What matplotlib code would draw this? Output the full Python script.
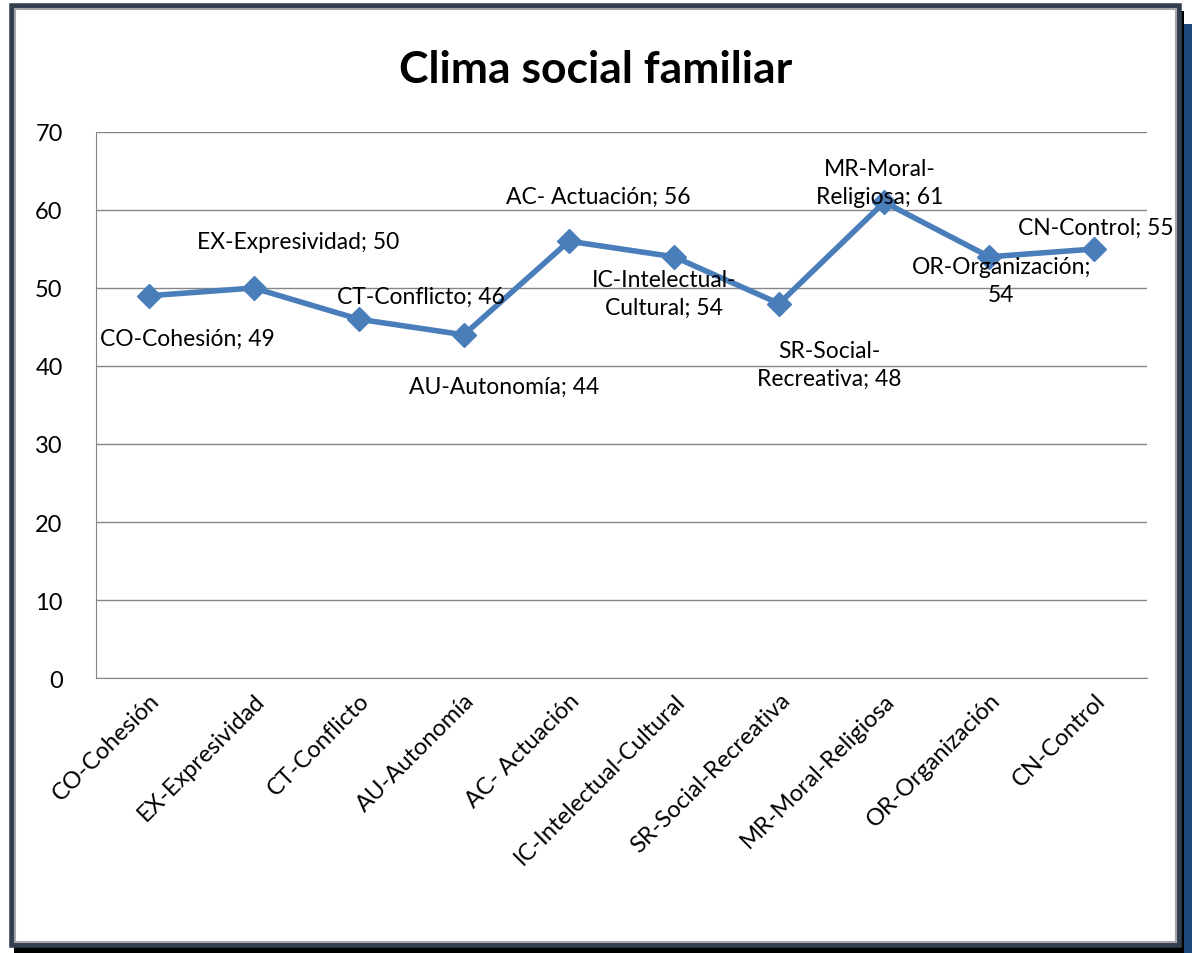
import matplotlib.pyplot as plt
from matplotlib.patches import Rectangle

plt.rcParams['font.family'] = ['Lato', 'DejaVu Sans']

categories = ['CO-Cohesión', 'EX-Expresividad', 'CT-Conflicto', 'AU-Autonomía',
              'AC- Actuación', 'IC-Intelectual-Cultural', 'SR-Social-Recreativa',
              'MR-Moral-Religiosa', 'OR-Organización', 'CN-Control']
values = [49, 50, 46, 44, 56, 54, 48, 61, 54, 55]
point_labels = ['CO-Cohesión; 49', 'EX-Expresividad; 50', 'CT-Conflicto; 46',
                'AU-Autonomía; 44', 'AC- Actuación; 56', 'IC-Intelectual-\nCultural; 54',
                'SR-Social-\nRecreativa; 48', 'MR-Moral-\nReligiosa; 61',
                'OR-Organización;\n54', 'CN-Control; 55']
# label offsets from the point, in pixels
label_offsets = [(39, -43), (44, 46), (62, 23), (40, -52), (29, 45),
                 (-10, -37), (50, -61), (-5, 20), (12, -24), (1, 22)]

W, H = 1192, 954
fig = plt.figure(figsize=(W / 100, H / 100), dpi=100)


def rect(x0, y0, x1, y1, **kw):
    # pixel box (top-left origin) -> figure fraction
    r = Rectangle((x0 / W, 1 - y1 / H), (x1 - x0) / W, (y1 - y0) / H,
                  transform=fig.transFigure, **kw)
    fig.patches.append(r)


# frame with shadow
rect(1182, 25, 1192, 954, facecolor='#1f497d', edgecolor='none', zorder=-3)
rect(14, 12, 1184, 954, facecolor='black', edgecolor='none', zorder=-2)
rect(12, 7, 1179, 946, facecolor='white', edgecolor='#323f4f', linewidth=4, zorder=-1)
rect(15, 10, 1176, 943, facecolor='none', edgecolor='#a6a6a6', linewidth=1.5, zorder=-1)

ax = fig.add_axes([96 / W, 1 - 679 / H, (1147 - 96) / W, (679 - 133) / H])
ax.set_facecolor('none')

x = list(range(len(categories)))
ax.plot(x, values, color='#4a7ebb', linewidth=4, marker='D', markersize=12,
        markerfacecolor='#4a7ebb', markeredgecolor='#4a7ebb', zorder=3)

for xi, v, lab, off in zip(x, values, point_labels, label_offsets):
    ax.annotate(lab, (xi, v), xytext=off, textcoords='offset pixels',
                ha='center', va='center', fontsize=16.5, linespacing=1.4, zorder=4)

ax.set_xlim(-0.5, len(categories) - 0.5)
ax.set_ylim(0, 70)
ax.set_yticks(range(0, 71, 10))
ax.yaxis.grid(True, color='#868686', linewidth=1)
ax.set_axisbelow(True)
for s in ['top', 'right']:
    ax.spines[s].set_visible(False)
ax.spines['left'].set_color('#868686')
ax.spines['bottom'].set_color('#868686')
ax.tick_params(axis='y', length=0, pad=24, labelsize=17)
ax.tick_params(axis='x', length=0, pad=8, labelsize=17)
ax.set_xticks(x)
ax.set_xticklabels(categories, rotation=45, ha='right', rotation_mode='anchor')

fig.text(596 / W, 1 - 70 / H, 'Clima social familiar', ha='center', va='center',
         fontsize=32, fontweight='bold')

fig.savefig('out.png', dpi=100)
